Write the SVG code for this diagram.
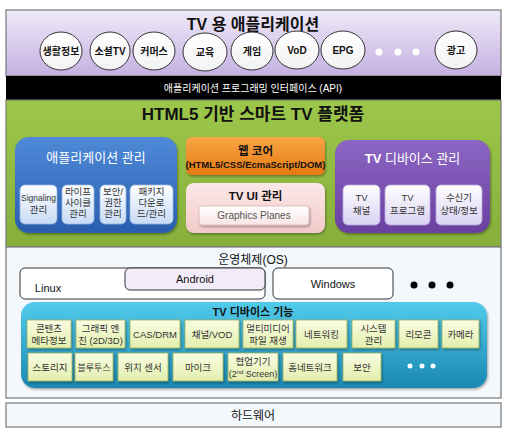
<svg xmlns="http://www.w3.org/2000/svg" width="507" height="435" viewBox="0 0 507 435">
<defs>
<linearGradient id="gPurp" x1="0" y1="0" x2="0" y2="1"><stop offset="0" stop-color="#efeaf8"/><stop offset="1" stop-color="#c4b0e2"/></linearGradient>
<linearGradient id="gGreen" x1="0" y1="0" x2="0" y2="1"><stop offset="0" stop-color="#9cc74b"/><stop offset="1" stop-color="#86b03a"/></linearGradient>
<linearGradient id="gBlue" x1="0" y1="0" x2="0" y2="1"><stop offset="0" stop-color="#4f8ad8"/><stop offset="1" stop-color="#2a5eae"/></linearGradient>
<linearGradient id="gBlueSub" x1="0" y1="0" x2="0" y2="1"><stop offset="0" stop-color="#ffffff"/><stop offset="1" stop-color="#c7dbf6"/></linearGradient>
<linearGradient id="gOrange" x1="0" y1="0" x2="0" y2="1"><stop offset="0" stop-color="#f9a545"/><stop offset="1" stop-color="#e47a12"/></linearGradient>
<linearGradient id="gPink" x1="0" y1="0" x2="0" y2="1"><stop offset="0" stop-color="#fce8e8"/><stop offset="1" stop-color="#f3c9c9"/></linearGradient>
<linearGradient id="gPinkSub" x1="0" y1="0" x2="0" y2="1"><stop offset="0" stop-color="#ffffff"/><stop offset="1" stop-color="#f8e4e4"/></linearGradient>
<linearGradient id="gViolet" x1="0" y1="0" x2="0" y2="1"><stop offset="0" stop-color="#8c66c4"/><stop offset="1" stop-color="#6a40a0"/></linearGradient>
<linearGradient id="gVioletSub" x1="0" y1="0" x2="0" y2="1"><stop offset="0" stop-color="#ffffff"/><stop offset="1" stop-color="#d9d1f1"/></linearGradient>
<linearGradient id="gCyan" x1="0" y1="0" x2="0" y2="1"><stop offset="0" stop-color="#52cbec"/><stop offset="1" stop-color="#1a88b2"/></linearGradient>
<linearGradient id="gYel" x1="0" y1="0" x2="0" y2="1"><stop offset="0" stop-color="#fafde2"/><stop offset="1" stop-color="#e2eeae"/></linearGradient>
<linearGradient id="gCircle" x1="0" y1="0" x2="0" y2="1"><stop offset="0" stop-color="#ffffff"/><stop offset="1" stop-color="#f2f2f2"/></linearGradient>
<filter id="sh" x="-10%" y="-10%" width="130%" height="140%"><feDropShadow dx="1" dy="1.5" stdDeviation="1" flood-color="#000" flood-opacity="0.35"/></filter>
</defs>
<style>
text{font-family:"Liberation Sans","Noto Sans CJK KR",sans-serif;text-anchor:middle}
.t16{font-size:16px;font-weight:bold;fill:#111}
.circ{fill:url(#gCircle);stroke:#333;stroke-width:1}
.ct{font-size:10px;font-weight:bold;fill:#111}
.sec{stroke:#777;stroke-width:1.2}
.bsub{fill:url(#gBlueSub);stroke:#9ab8e0;stroke-width:0.8}
.vsub{fill:url(#gVioletSub);stroke:#b8a8e0;stroke-width:0.8}
.ysub{fill:url(#gYel);stroke:#9aae5c;stroke-width:0.8}
.st{font-size:9.5px;fill:#333}
.yt{font-size:9.5px;fill:#333}
.wt{fill:#fff}
.osb{fill:#fff;stroke:#333;stroke-width:1}
</style>

<!-- TV applications section -->
<g id="apps">
<rect x="6" y="10" width="495" height="66" fill="url(#gPurp)" class="sec"/>
<text x="253" y="30" class="t16">TV 용 애플리케이션</text>
</g>
<g id="app-life"><ellipse cx="61" cy="51" rx="21" ry="19" class="circ"/><text x="61" y="55" class="ct">생활정보</text></g>
<g id="app-social"><ellipse cx="110" cy="51" rx="20" ry="19" class="circ"/><text x="110" y="55" class="ct">소셜TV</text></g>
<g id="app-commerce"><ellipse cx="154" cy="51" rx="21" ry="19" class="circ"/><text x="154" y="55" class="ct">커머스</text></g>
<g id="app-edu"><ellipse cx="205" cy="52" rx="22" ry="19" class="circ"/><text x="205" y="56" class="ct">교육</text></g>
<g id="app-game"><ellipse cx="252" cy="51" rx="21" ry="19" class="circ"/><text x="252" y="55" class="ct">게임</text></g>
<g id="app-vod"><ellipse cx="297" cy="50" rx="22" ry="19" class="circ"/><text x="297" y="54" class="ct">VoD</text></g>
<g id="app-epg"><ellipse cx="343" cy="50" rx="22" ry="19" class="circ"/><text x="343" y="54" class="ct">EPG</text></g>
<g id="app-dots"><circle cx="379" cy="52" r="3.5" fill="#fff"/><circle cx="398" cy="52" r="3.5" fill="#fff"/><circle cx="416" cy="52" r="3.5" fill="#fff"/></g>
<g id="app-ad"><ellipse cx="456" cy="50" rx="21" ry="19" class="circ"/><text x="456" y="54" class="ct">광고</text></g>

<!-- API band -->
<g id="api">
<rect x="6" y="76" width="495" height="24" fill="#000"/>
<text x="253" y="92" style="font-size:10px;fill:#fff">애플리케이션 프로그래밍 인터페이스 (API)</text>
</g>

<!-- HTML5 platform -->
<g id="platform">
<rect x="6" y="100" width="495" height="147" fill="url(#gGreen)" class="sec"/>
<text x="253" y="120" style="font-size:17px;font-weight:bold;fill:#111">HTML5 기반 스마트 TV 플랫폼</text>
</g>

<g id="appmgmt">
<rect x="15" y="137" width="162" height="96" rx="14" fill="url(#gBlue)" filter="url(#sh)"/>
<text x="96" y="162" class="wt" style="font-size:13px">애플리케이션 관리</text>
</g>
<g id="am-signal"><rect x="20" y="185" width="37" height="39" rx="5" class="bsub"/><text x="38.5" y="201" class="st" style="font-size:8.5px">Signaling</text><text x="38.5" y="213" class="st">관리</text></g>
<g id="am-life"><rect x="62" y="185" width="32" height="39" rx="5" class="bsub"/><text x="78" y="195" class="st">라이프</text><text x="78" y="206" class="st">사이클</text><text x="78" y="217" class="st">관리</text></g>
<g id="am-sec"><rect x="100" y="185" width="26" height="39" rx="5" class="bsub"/><text x="113" y="195" class="st">보안/</text><text x="113" y="206" class="st">권한</text><text x="113" y="217" class="st">관리</text></g>
<g id="am-pkg"><rect x="130" y="185" width="43" height="39" rx="5" class="bsub"/><text x="151.5" y="195" class="st">패키지</text><text x="151.5" y="206" class="st">다운로</text><text x="151.5" y="217" class="st">드/관리</text></g>

<g id="webcore">
<rect x="186" y="137" width="139" height="38" rx="6" fill="url(#gOrange)" filter="url(#sh)"/>
<text x="255.5" y="155" style="font-size:11.5px;font-weight:bold;fill:#111">웹 코어</text>
<text x="255.5" y="168" style="font-size:9.5px;font-weight:bold;fill:#111">(HTML5/CSS/EcmaScript/DOM)</text>
</g>

<g id="tvui">
<rect x="186" y="183" width="139" height="50" rx="8" fill="url(#gPink)" filter="url(#sh)"/>
<text x="255.5" y="200" style="font-size:11.5px;font-weight:bold;fill:#111">TV UI 관리</text>
</g>
<g id="gplanes"><rect x="199" y="206" width="110" height="19" rx="3" fill="url(#gPinkSub)" stroke="#d8b8b8" stroke-width="0.8" filter="url(#sh)"/><text x="254" y="219" style="font-size:10px;fill:#555">Graphics Planes</text></g>

<g id="tvdevmgmt">
<rect x="335" y="140" width="155" height="93" rx="14" fill="url(#gViolet)" filter="url(#sh)"/>
<text x="412.5" y="163" class="wt" style="font-size:13px"><tspan font-weight="bold">TV</tspan> 디바이스 관리</text>
</g>
<g id="dm-ch"><rect x="343" y="185" width="37" height="40" rx="5" class="vsub"/><text x="361.5" y="201" class="st">TV</text><text x="361.5" y="214" class="st">채널</text></g>
<g id="dm-prog"><rect x="385" y="185" width="45" height="40" rx="5" class="vsub"/><text x="407.5" y="201" class="st">TV</text><text x="407.5" y="214" class="st">프로그램</text></g>
<g id="dm-recv"><rect x="436" y="185" width="46" height="40" rx="5" class="vsub"/><text x="459" y="201" class="st">수신기</text><text x="459" y="214" class="st">상태/정보</text></g>

<!-- OS section -->
<g id="os">
<rect x="6" y="247" width="495" height="151" fill="#f3f8fc" class="sec"/>
<text x="253" y="264" style="font-size:12px;fill:#111">운영체제(OS)</text>
</g>
<g id="os-linux"><rect x="20" y="268" width="245" height="31" rx="5" class="osb"/><text x="48" y="292" style="font-size:11px;fill:#111">Linux</text></g>
<g id="os-android"><rect x="125" y="268" width="140" height="22" rx="5" fill="#f2ecfa" stroke="#333" stroke-width="1"/><text x="195" y="283" style="font-size:11px;fill:#111">Android</text></g>
<g id="os-windows"><rect x="273" y="268" width="120" height="31" rx="5" class="osb"/><text x="333" y="288" style="font-size:11px;fill:#111">Windows</text></g>
<g id="os-dots"><circle cx="414" cy="285" r="3.5" fill="#000"/><circle cx="432" cy="285" r="3.5" fill="#000"/><circle cx="450" cy="285" r="3.5" fill="#000"/></g>

<g id="tvdevfunc">
<rect x="21" y="302" width="466" height="86" rx="14" fill="url(#gCyan)" filter="url(#sh)"/>
<text x="253" y="316" style="font-size:11px;font-weight:bold;fill:#111">TV 디바이스 기능</text>
</g>
<g id="f-meta"><rect x="27" y="320" width="44" height="28" class="ysub" filter="url(#sh)"/><text x="49" y="332" class="yt">콘텐츠</text><text x="49" y="344" class="yt">메타정보</text></g>
<g id="f-gfx"><rect x="76" y="320" width="49" height="28" class="ysub" filter="url(#sh)"/><text x="100.5" y="332" class="yt">그래픽 엔</text><text x="100.5" y="344" class="yt">진 (2D/3D)</text></g>
<g id="f-cas"><rect x="130" y="320" width="50" height="28" class="ysub" filter="url(#sh)"/><text x="155" y="338" class="yt">CAS/DRM</text></g>
<g id="f-chvod"><rect x="185" y="320" width="54" height="28" class="ysub" filter="url(#sh)"/><text x="212" y="338" class="yt">채널/VOD</text></g>
<g id="f-mm"><rect x="243" y="320" width="50" height="28" class="ysub" filter="url(#sh)"/><text x="268" y="332" class="yt">멀티미디어</text><text x="268" y="344" class="yt">파일 재생</text></g>
<g id="f-net"><rect x="296" y="320" width="51" height="28" class="ysub" filter="url(#sh)"/><text x="321.5" y="338" class="yt">네트워킹</text></g>
<g id="f-sys"><rect x="352" y="320" width="43" height="28" class="ysub" filter="url(#sh)"/><text x="373.5" y="332" class="yt">시스템</text><text x="373.5" y="344" class="yt">관리</text></g>
<g id="f-remote"><rect x="399" y="320" width="39" height="28" class="ysub" filter="url(#sh)"/><text x="418.5" y="338" class="yt">리모콘</text></g>
<g id="f-cam"><rect x="442" y="320" width="37" height="28" class="ysub" filter="url(#sh)"/><text x="460.5" y="338" class="yt">카메라</text></g>

<g id="f-storage"><rect x="28" y="353" width="44" height="28" class="ysub" filter="url(#sh)"/><text x="50" y="371" class="yt">스토리지</text></g>
<g id="f-bt"><rect x="75" y="353" width="38" height="28" class="ysub" filter="url(#sh)"/><text x="94" y="371" class="yt" style="font-size:9px">블루투스</text></g>
<g id="f-loc"><rect x="118" y="353" width="50" height="28" class="ysub" filter="url(#sh)"/><text x="143" y="371" class="yt">위치 센서</text></g>
<g id="f-mic"><rect x="173" y="353" width="50" height="28" class="ysub" filter="url(#sh)"/><text x="198" y="371" class="yt">마이크</text></g>
<g id="f-collab"><rect x="228" y="353" width="50" height="28" class="ysub" filter="url(#sh)"/><text x="253" y="365" class="yt">협업기기</text><text x="253" y="377" class="yt" style="font-size:9px">(2<tspan font-size="6" dy="-3">nd</tspan><tspan dy="3"> Screen)</tspan></text></g>
<g id="f-home"><rect x="283" y="353" width="54" height="28" class="ysub" filter="url(#sh)"/><text x="310" y="371" class="yt">홈네트워크</text></g>
<g id="f-sec"><rect x="343" y="353" width="38" height="28" class="ysub" filter="url(#sh)"/><text x="362" y="371" class="yt">보안</text></g>
<g id="f-dots"><circle cx="410" cy="366" r="2.5" fill="#fff"/><circle cx="422" cy="366" r="2.5" fill="#fff"/><circle cx="433" cy="366" r="2.5" fill="#fff"/></g>

<!-- Hardware -->
<g id="hw">
<rect x="6" y="403" width="495" height="24" fill="#f3f8fc" class="sec"/>
<text x="253" y="420" style="font-size:12px;fill:#111">하드웨어</text>
</g>
<g id="connectors"></g>
</svg>
